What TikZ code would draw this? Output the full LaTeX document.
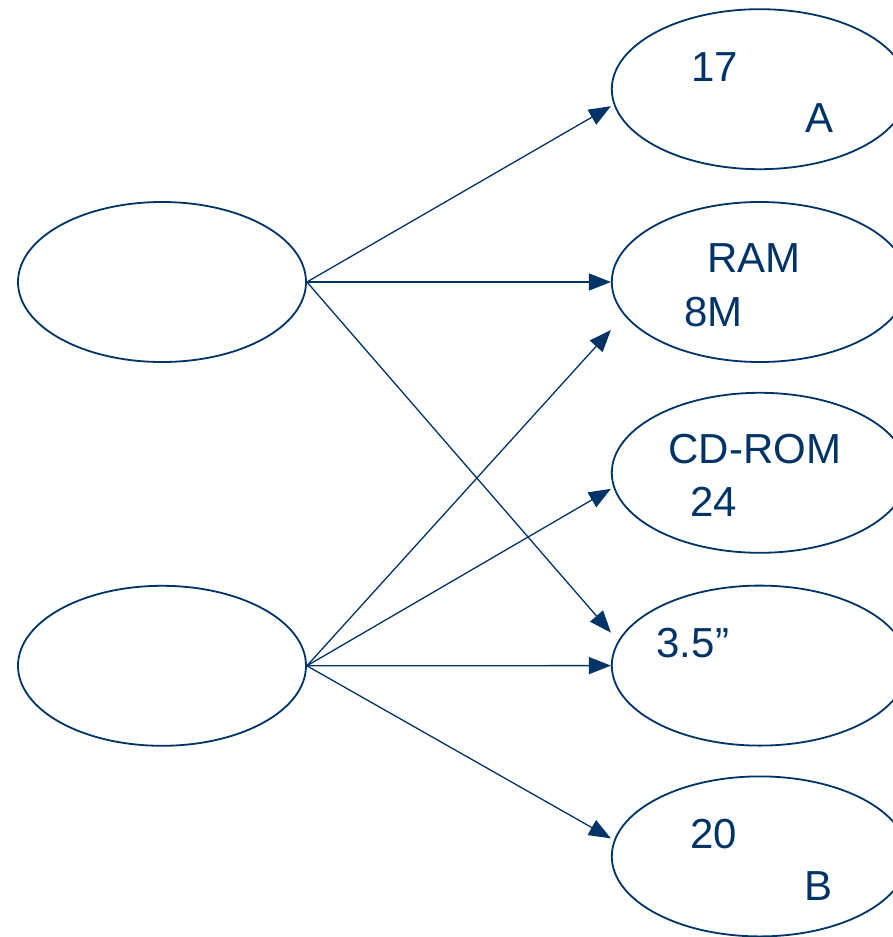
\documentclass[tikz,border=0pt]{standalone}
\usepackage{fontspec}
\setmainfont{Liberation Sans}
\usepackage{xcolor}
\definecolor{navy}{RGB}{0,51,102}
\usetikzlibrary{positioning, calc, shapes.geometric, arrows.meta}
\tikzstyle{Oval} = [
draw=navy, line width=1.8pt,
ellipse, inner sep=0pt,
minimum width=296pt, minimum height=160pt]
\tikzstyle{Label} = [
text=navy, anchor=base, inner sep=0pt,
font=\fontsize{42}{48}\selectfont]
\tikzstyle{Arrow} = [
draw=navy, line width=1.3pt,
-{Triangle[length=22pt, width=17pt]}]

\begin{document}
\begin{tikzpicture}[x=1pt, y=1pt]
    \clip (0,0) rectangle (893,-937);
    \node [Oval, minimum width=288pt] (src1) at (162,-282) {};
    \node [Oval, minimum width=288pt, below =222pt of src1] (src2) {};
    \node [Oval, right =304pt of src1] (ram) {};
    \node [Oval, above =31pt of ram] (mon) {};
    \node [Oval, below =29pt of ram] (cdrom) {};
    \node [Oval, below =31pt of cdrom] (floppy) {};
    \node [Oval, below =29pt of floppy] (hdd) {};

    % labels inside the ovals
    \node [Label] (l17) at ([shift={(-45,8)}]mon.center) {17};
    \node [Label] (la) at ([shift={(60,-43)}]mon.center) {A};
    \node [Label] (lram) at ([shift={(-6,10)}]ram.center) {RAM};
    \node [Label] (l8m) at ([shift={(-46,-44)}]ram.center) {8M};
    \node [Label] (lcd) at ([shift={(-5,9)}]cdrom.center) {CD-ROM};
    \node [Label] (l24) at ([shift={(-46,-44)}]cdrom.center) {24};
    \node [Label] (l35) at ([shift={(-67,8)}]floppy.center) {3.5”};
    \node [Label] (l20) at ([shift={(-46,8)}]hdd.center) {20};
    \node [Label] (lb) at ([shift={(59,-44)}]hdd.center) {B};

    \draw[Arrow] (src1.east) -- ([yshift=-17]mon.west);
    \draw[Arrow] (src1.east) -- (ram.west);
    \draw[Arrow] (src1.east) -- ([yshift=33]floppy.west);
    \draw[Arrow] (src2.east) -- ([yshift=-48]ram.west);
    \draw[Arrow] (src2.east) -- ([yshift=-16]cdrom.west);
    \draw[Arrow] (src2.east) -- (floppy.west);
    \draw[Arrow] (src2.east) -- ([yshift=18]hdd.west);
\end{tikzpicture}
\end{document}
